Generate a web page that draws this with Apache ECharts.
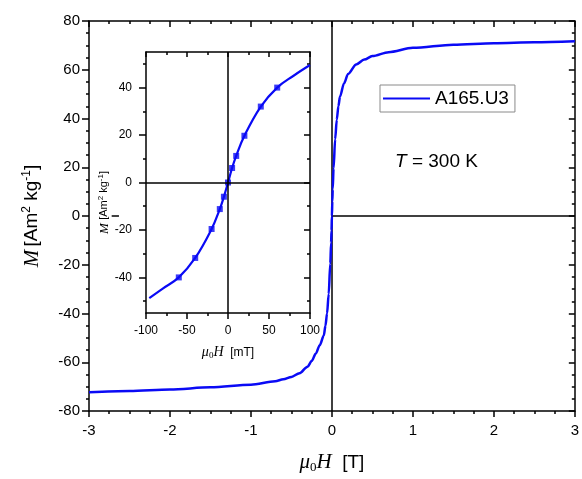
<!DOCTYPE html>
<html><head><meta charset="utf-8">
<script src="https://cdn.jsdelivr.net/npm/echarts@6/dist/echarts.min.js"></script>
<style>html,body{margin:0;padding:0;background:#fff}#c{width:582px;height:479px}</style>
</head><body><div id="c"></div>
<script>
// ---- data ----
const seriesName = 'A165.U3';
// main hysteresis curve: field [T], magnetisation [Am2/kg]
const mainH = [-3, -2.5, -2, -1.5, -1, -0.7, -0.6, -0.5, -0.4, -0.3, -0.25, -0.2, -0.15, -0.1, -0.08, -0.06, -0.04, -0.02, -0.01, -0.005, 0,
               0.005, 0.01, 0.02, 0.04, 0.06, 0.08, 0.1, 0.15, 0.2, 0.3, 0.4, 0.5, 0.7, 1, 1.5, 2, 2.5, 3];
const mainM = [-72.3, -71.8, -71.2, -70.3, -69.2, -67.8, -67, -66, -64.5, -61.8, -59.5, -56.5, -53, -49, -45, -40, -32, -19.5, -11, -6, 0,
               6, 11, 19.5, 31.5, 39.5, 45, 49, 54.5, 58.3, 62.2, 64.2, 65.6, 67.2, 69, 70.3, 70.9, 71.3, 71.7];
// inset: low-field part, field [mT]
const insetLineH = [-96, -80, -60, -40, -20, -10, -5, 0, 5, 10, 20, 40, 60, 80, 100];
const insetLineM = [-48.7, -44.8, -40, -31.8, -19.6, -11.2, -6, 0, 6.1, 11.2, 19.7, 32, 40, 45, 49.5];
const insetPtH = [-60, -40, -20, -10, -5, 0, 5, 10, 20, 40, 60];
const insetPtM = [-40, -31.8, -19.6, -11.2, -6, 0, 6.1, 11.2, 19.7, 32, 40];
// tick values
const insetYMajor = [-40, -20, 0, 20, 40];
const insetYMinor = [-50, -30, -10, 10, 30, 50];

const BLUE = '#0a0af5';
const BLACK = '#000';
const SANS = 'Liberation Sans';
const SERIF = 'Liberation Serif';

const zip = (a, b) => a.map((v, i) => [v, b[i]]);
const LS = { color: BLACK, width: 1.5 };
const AL = { onZero: false, lineStyle: LS };

const chart = echarts.init(document.getElementById('c'), null, { renderer: 'canvas' });

const richName = (big, small) => ({
  i: { fontFamily: SERIF, fontStyle: 'italic', fontSize: big + 2, color: BLACK },
  t: { fontFamily: SANS, fontSize: big, color: BLACK },
  sup: { fontFamily: SANS, fontSize: small, color: BLACK, padding: [0, 0, Math.round(big * 0.55), 0] },
  sub: { fontFamily: SERIF, fontSize: small, color: BLACK, padding: [Math.round(big * 0.5), 0, 0, 0] }
});

chart.setOption({
  animation: false,
  backgroundColor: '#fff',
  grid: [
    { left: 89, top: 21, width: 490, height: 395 },
    { left: 146, top: 52, width: 164, height: 261 },
    { left: 146, top: 52, width: 164, height: 261 }
  ],
  legend: {
    data: [seriesName], left: 380, top: 85, icon: 'rect', itemWidth: 47, itemHeight: 2,
    borderColor: '#8a8a8a', borderWidth: 1, padding: [4, 6, 4, 3], backgroundColor: '#fff',
    textStyle: { fontFamily: SANS, fontSize: 19, color: BLACK }
  },
  xAxis: [
    { gridIndex: 0, type: 'value', min: -3, max: 3, interval: 1, position: 'bottom',
      axisLine: AL, splitLine: { show: false },
      axisTick: { length: 6, lineStyle: LS },
      minorTick: { show: true, splitNumber: 4, length: 3, lineStyle: LS },
      axisLabel: { fontFamily: SANS, fontSize: 15, color: BLACK, margin: 12 },
      name: '{i|μ}{sub|0}{i|H}{t|  [T]}', nameLocation: 'middle', nameGap: 40,
      nameTextStyle: { rich: richName(19, 13) } },
    { gridIndex: 0, type: 'value', min: -3, max: 3, interval: 1, position: 'top',
      axisLine: AL, splitLine: { show: false },
      axisTick: { inside: true, length: 6, lineStyle: LS },
      minorTick: { show: true, splitNumber: 4, length: 3, lineStyle: LS },
      axisLabel: { show: false } },
    { gridIndex: 1, type: 'value', min: -100, max: 100, interval: 50, position: 'bottom',
      axisLine: AL, splitLine: { show: false },
      axisTick: { length: 6, lineStyle: LS },
      minorTick: { show: true, splitNumber: 2, length: 3, lineStyle: LS },
      axisLabel: { fontFamily: SANS, fontSize: 12, color: BLACK, margin: 12 },
      name: '{i|μ}{sub|0}{i|H}{t|  [mT]}', nameLocation: 'middle', nameGap: 32,
      nameTextStyle: { rich: richName(12, 9) } },
    { gridIndex: 1, type: 'value', min: -100, max: 100, interval: 50, position: 'top',
      axisLine: AL, splitLine: { show: false },
      axisTick: { inside: true, length: 5, lineStyle: LS },
      minorTick: { show: true, splitNumber: 2, length: 3, lineStyle: LS },
      axisLabel: { show: false } },
    { gridIndex: 2, type: 'value', min: -100, max: 100, show: false }
  ],
  yAxis: [
    { gridIndex: 0, type: 'value', min: -80, max: 80, interval: 20, position: 'left',
      axisLine: AL, splitLine: { show: false },
      axisTick: { length: 7, lineStyle: LS },
      minorTick: { show: true, splitNumber: 4, length: 3, lineStyle: LS },
      axisLabel: { fontFamily: SANS, fontSize: 15, color: BLACK, margin: 9 },
      name: '{i|M} {t|[Am}{sup|2}{t| kg}{sup|-1}{t|]}', nameLocation: 'middle', nameGap: 46,
      nameTextStyle: { rich: richName(19, 12) } },
    { gridIndex: 0, type: 'value', min: -80, max: 80, interval: 20, position: 'right',
      axisLine: AL, splitLine: { show: false },
      axisTick: { inside: true, length: 6, lineStyle: LS },
      minorTick: { show: true, splitNumber: 4, length: 3, lineStyle: LS },
      axisLabel: { show: false } },
    { gridIndex: 1, type: 'value', min: -55, max: 55, position: 'left',
      axisLine: AL, splitLine: { show: false },
      axisTick: { length: 7, customValues: insetYMajor, lineStyle: LS },
      axisLabel: { customValues: insetYMajor, fontFamily: SANS, fontSize: 12, color: BLACK, margin: 14 },
      name: '{i|M} {t|[Am}{sup|2}{t| kg}{sup|-1}{t|]}', nameLocation: 'middle', nameGap: 20,
      nameTextStyle: { rich: richName(11, 8), padding: [0, 40, 0, 0] } },
    { gridIndex: 1, type: 'value', min: -55, max: 55, position: 'right',
      axisLine: AL, splitLine: { show: false },
      axisTick: { inside: true, length: 6, customValues: insetYMajor, lineStyle: LS },
      axisLabel: { show: false } },
    { gridIndex: 2, type: 'value', min: -55, max: 55, position: 'left',
      axisLine: { show: false, onZero: false }, splitLine: { show: false },
      axisTick: { length: 3, customValues: insetYMinor, lineStyle: LS },
      axisLabel: { show: false } },
    { gridIndex: 2, type: 'value', min: -55, max: 55, position: 'right',
      axisLine: { show: false, onZero: false }, splitLine: { show: false },
      axisTick: { inside: true, length: 3, customValues: insetYMinor, lineStyle: LS },
      axisLabel: { show: false } }
  ],
  graphic: [
    { type: 'text', left: 395, top: 152,
      style: { text: '{i|T}{n| = 300 K}', rich: {
        i: { fontFamily: SANS, fontStyle: 'italic', fontSize: 19, fill: BLACK },
        n: { fontFamily: SANS, fontSize: 19, fill: BLACK } } } }
  ],
  series: [
    { name: seriesName, type: 'line', xAxisIndex: 0, yAxisIndex: 0, data: zip(mainH, mainM),
      showSymbol: false, smooth: 0.3, smoothMonotone: 'x', z: 3,
      lineStyle: { color: BLUE, width: 2.5 }, itemStyle: { color: BLUE },
      markLine: { silent: true, symbol: 'none', label: { show: false }, z: 2,
        lineStyle: { color: BLACK, width: 1.5, type: 'solid' },
        data: [ { xAxis: 0 },
                [ { coord: [0, 0] }, { coord: [3, 0] } ],
                [ { coord: [-2.72, 0] }, { coord: [-2.63, 0] } ] ] } },
    { name: 'inset', type: 'line', xAxisIndex: 2, yAxisIndex: 2, data: zip(insetLineH, insetLineM),
      showSymbol: false, smooth: 0.4, z: 3,
      lineStyle: { color: BLUE, width: 2.2 }, itemStyle: { color: BLUE },
      markLine: { silent: true, symbol: 'none', label: { show: false },
        lineStyle: { color: BLACK, width: 1.5, type: 'solid' },
        data: [ { xAxis: 0 }, { yAxis: 0 } ] } },
    { name: 'inset points', type: 'scatter', xAxisIndex: 2, yAxisIndex: 2, data: zip(insetPtH, insetPtM),
      symbol: 'rect', symbolSize: 6, z: 4, itemStyle: { color: BLUE } }
  ]
});
</script>
</body></html>
